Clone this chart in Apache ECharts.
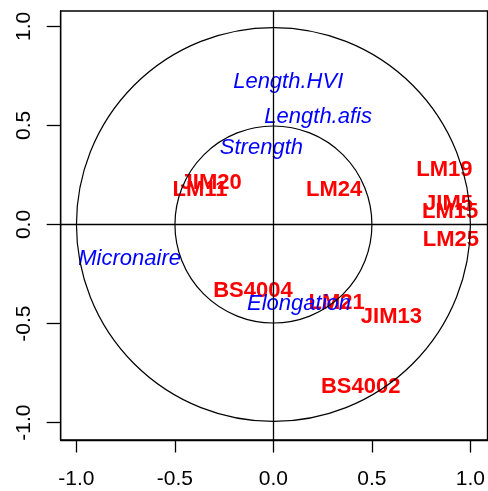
<!DOCTYPE html>
<html>
<head>
<meta charset="utf-8">
<script src="https://cdn.jsdelivr.net/npm/echarts@6/dist/echarts.min.js"></script>
<style>
html,body{margin:0;padding:0;background:#fff;}
#chart{width:488px;height:491px;}
</style>
</head>
<body>
<div id="chart"></div>
<script>
// Genotype labels (red, bold)
const genotypes = ['JIM20', 'LM11', 'LM24', 'LM19', 'JIM5', 'LM15', 'LM25', 'BS4004', 'LM21', 'JIM13', 'BS4002'];
const genoX = [-0.316, -0.373, 0.308, 0.868, 0.889, 0.897, 0.901, -0.104, 0.321, 0.599, 0.443];
const genoY = [0.208, 0.175, 0.175, 0.276, 0.102, 0.065, -0.078, -0.335, -0.395, -0.469, -0.820];

// Trait labels (blue, italic)
const traits = ['Length.HVI', 'Length.afis', 'Strength', 'Micronaire', 'Elongation'];
const traitX = [0.075, 0.227, -0.061, -0.730, 0.130];
const traitY = [0.718, 0.541, 0.389, -0.176, -0.399];

// Circles of correlation
const circleRadii = [1, 0.5];

// Axis ticks
const tickValues = [-1, -0.5, 0, 0.5, 1];

const FONT = 'Liberation Sans, Arial, sans-serif';

const chart = echarts.init(document.getElementById('chart'));

const genoData = genotypes.map((n, i) => ({ name: n, value: [genoX[i], genoY[i]] }));
const traitData = traits.map((n, i) => ({ name: n, value: [traitX[i], traitY[i]] }));
const circleData = circleRadii.map(r => [0, 0, r]);

chart.setOption({
  animation: false,
  backgroundColor: '#fff',
  grid: {
    left: 60.7, top: 11, right: -2, bottom: 51,
    show: true, borderColor: '#000', borderWidth: 1.3, backgroundColor: 'transparent'
  },
  xAxis: {
    type: 'value', min: -1.080, max: 1.0866,
    axisLine: { show: true, onZero: false, lineStyle: { color: '#000', width: 1.3 } },
    axisTick: { show: true, customValues: tickValues, length: 12.5, lineStyle: { color: '#000', width: 1.3 } },
    axisLabel: {
      show: true, customValues: tickValues, margin: 29,
      formatter: v => Number(v).toFixed(1),
      color: '#000', fontSize: 21, fontFamily: FONT
    },
    splitLine: { show: false }
  },
  yAxis: {
    type: 'value', min: -1.0876, max: 1.0775,
    axisLine: { show: true, onZero: false, lineStyle: { color: '#000', width: 1.3 } },
    axisTick: { show: true, customValues: tickValues, length: 14, lineStyle: { color: '#000', width: 1.3 } },
    axisLabel: {
      show: true, customValues: tickValues, margin: 26, rotate: 90,
      formatter: v => Number(v).toFixed(1),
      color: '#000', fontSize: 21, fontFamily: FONT
    },
    splitLine: { show: false }
  },
  series: [
    {
      type: 'scatter',
      z: 2,
      data: genoData,
      symbolSize: 1,
      itemStyle: { color: 'transparent', opacity: 1 },
      label: {
        show: true, position: 'inside', formatter: p => p.name, opacity: 1,
        color: '#ff0000', fontWeight: 'bold', fontSize: 22, fontFamily: FONT,
        textBorderWidth: 0
      },
      labelLayout: { hideOverlap: false },
      silent: true
    },
    {
      type: 'scatter',
      z: 3,
      data: traitData,
      symbolSize: 1,
      itemStyle: { color: 'transparent', opacity: 1 },
      label: {
        show: true, position: 'inside', formatter: p => p.name, opacity: 1,
        color: '#0000ff', fontStyle: 'italic', fontSize: 22, fontFamily: FONT,
        textBorderWidth: 0
      },
      labelLayout: { hideOverlap: false },
      silent: true
    },
    {
      type: 'custom',
      z: 5,
      data: circleData,
      encode: { x: 0, y: 1 },
      clip: false,
      silent: true,
      renderItem: (params, api) => {
        const c = api.coord([api.value(0), api.value(1)]);
        const r = api.size([api.value(2), 0])[0];
        return {
          type: 'circle',
          shape: { cx: c[0], cy: c[1], r: r },
          style: { fill: 'none', stroke: '#000', lineWidth: 1.2 }
        };
      },
      markLine: {
        silent: true,
        symbol: 'none',
        animation: false,
        label: { show: false },
        lineStyle: { color: '#000', width: 1.3, type: 'solid' },
        emphasis: { disabled: true },
        data: [{ xAxis: 0 }, { yAxis: 0 }]
      }
    }
  ]
});
</script>
</body>
</html>
